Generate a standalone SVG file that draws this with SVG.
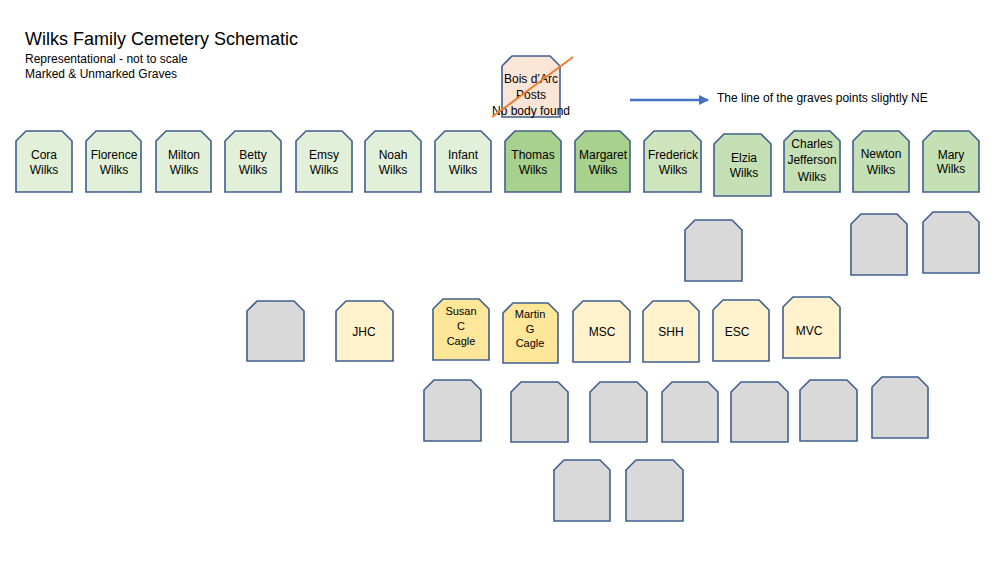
<svg xmlns="http://www.w3.org/2000/svg" width="1000" height="562" viewBox="0 0 1000 562">
<defs>
<style>
.g{stroke:#3f5f8f;stroke-width:1.6;stroke-linejoin:miter}
.lg{fill:#e2f0d9}.dg{fill:#a9d18e}.mg{fill:#c5e0b4}.fg{fill:#cde4bd}
.gr{fill:#d9d9d9}.ly{fill:#fff2cc}.dy{fill:#ffe699}.pk{fill:#fbe5d6}
text{font-family:"Liberation Sans",Arial,sans-serif;fill:#000}
.t{font-size:12px;text-anchor:middle}
.ts{font-size:11px;text-anchor:middle}
</style>
<marker id="ah" viewBox="0 0 10 10" refX="9" refY="5" markerWidth="4" markerHeight="4" orient="auto"><path d="M0,0 L10,5 L0,10 Z" fill="#4472c4"/></marker>
</defs>
<rect width="1000" height="562" fill="#fff"/>
<g id="title">
<text x="25" y="45" font-size="18">Wilks Family Cemetery Schematic</text>
<text x="25" y="63" font-size="12">Representational - not to scale</text>
<text x="25" y="78" font-size="12">Marked &amp; Unmarked Graves</text>
</g>
<g id="connectors">
<line x1="630" y1="100" x2="708" y2="100" stroke="#4472c4" stroke-width="2.5" marker-end="url(#ah)"/>
</g>
<g id="note"><text x="717" y="102" font-size="12">The line of the graves points slightly NE</text></g>
<g id="bois">
<path class="g pk" d="M502,66 L512,56 L550,56 L560,66 L560,117 L502,117 Z"/>
<text class="t" x="531" y="83">Bois d’Arc</text>
<text class="t" x="531" y="99">Posts</text>
<text class="t" x="531" y="115">No body found</text>
<line x1="492" y1="117" x2="573" y2="57" stroke="#ed7d31" stroke-width="2"/>
</g>
<g id="cora"><path class="g lg" d="M16,141 L26,131 L62,131 L72,141 L72,192 L16,192 Z"/><text class="t" x="44" y="159">Cora</text><text class="t" x="44" y="174">Wilks</text></g>
<g id="florence"><path class="g lg" d="M86,141 L96,131 L131,131 L141,141 L141,192 L86,192 Z"/><text class="t" x="114" y="159">Florence</text><text class="t" x="114" y="174">Wilks</text></g>
<g id="milton"><path class="g lg" d="M156,141 L166,131 L201,131 L211,141 L211,192 L156,192 Z"/><text class="t" x="184" y="159">Milton</text><text class="t" x="184" y="174">Wilks</text></g>
<g id="betty"><path class="g lg" d="M225,141 L235,131 L271,131 L281,141 L281,192 L225,192 Z"/><text class="t" x="253" y="159">Betty</text><text class="t" x="253" y="174">Wilks</text></g>
<g id="emsy"><path class="g lg" d="M296,141 L306,131 L342,131 L352,141 L352,192 L296,192 Z"/><text class="t" x="324" y="159">Emsy</text><text class="t" x="324" y="174">Wilks</text></g>
<g id="noah"><path class="g lg" d="M365,141 L375,131 L411,131 L421,141 L421,192 L365,192 Z"/><text class="t" x="393" y="159">Noah</text><text class="t" x="393" y="174">Wilks</text></g>
<g id="infant"><path class="g lg" d="M435,141 L445,131 L481,131 L491,141 L491,192 L435,192 Z"/><text class="t" x="463" y="159">Infant</text><text class="t" x="463" y="174">Wilks</text></g>
<g id="thomas"><path class="g dg" d="M505,141 L515,131 L551,131 L561,141 L561,192 L505,192 Z"/><text class="t" x="533" y="159">Thomas</text><text class="t" x="533" y="174">Wilks</text></g>
<g id="margaret"><path class="g dg" d="M575,141 L585,131 L620,131 L630,141 L630,192 L575,192 Z"/><text class="t" x="603" y="159">Margaret</text><text class="t" x="603" y="174">Wilks</text></g>
<g id="frederick"><path class="g fg" d="M644,141 L654,131 L691,131 L701,141 L701,192 L644,192 Z"/><text class="t" x="673" y="159">Frederick</text><text class="t" x="673" y="174">Wilks</text></g>
<g id="elzia"><path class="g mg" d="M714,144 L724,134 L761,134 L771,144 L771,196 L714,196 Z"/><text class="t" x="744" y="162">Elzia</text><text class="t" x="744" y="177">Wilks</text></g>
<g id="charles"><path class="g mg" d="M784,141 L794,131 L830,131 L840,141 L840,192 L784,192 Z"/><text class="t" x="812" y="148">Charles</text><text class="t" x="812" y="164">Jefferson</text><text class="t" x="812" y="181">Wilks</text></g>
<g id="newton"><path class="g mg" d="M853,141 L863,131 L899,131 L909,141 L909,192 L853,192 Z"/><text class="t" x="881" y="158">Newton</text><text class="t" x="881" y="174">Wilks</text></g>
<g id="mary"><path class="g mg" d="M923,141 L933,131 L969,131 L979,141 L979,192 L923,192 Z"/><text class="t" x="951" y="159">Mary</text><text class="t" x="951" y="173">Wilks</text></g>
<g id="u1"><path class="g gr" d="M685,230 L695,220 L732,220 L742,230 L742,281 L685,281 Z"/></g>
<g id="u2"><path class="g gr" d="M851,224 L861,214 L897,214 L907,224 L907,275 L851,275 Z"/></g>
<g id="u3"><path class="g gr" d="M923,222 L933,212 L969,212 L979,222 L979,273 L923,273 Z"/></g>
<g id="u4"><path class="g gr" d="M247,311 L257,301 L294,301 L304,311 L304,361 L247,361 Z"/></g>
<g id="jhc"><path class="g ly" d="M336,311 L346,301 L383,301 L393,311 L393,361 L336,361 Z"/><text class="t" x="364" y="336">JHC</text></g>
<g id="susan"><path class="g dy" d="M433,309 L443,299 L479,299 L489,309 L489,360 L433,360 Z"/><text class="ts" x="461" y="315">Susan</text><text class="ts" x="461" y="330">C</text><text class="ts" x="461" y="345">Cagle</text></g>
<g id="martin"><path class="g dy" d="M503,313 L513,303 L548,303 L558,313 L558,363 L503,363 Z"/><text class="ts" x="530" y="318">Martin</text><text class="ts" x="530" y="333">G</text><text class="ts" x="530" y="347">Cagle</text></g>
<g id="msc"><path class="g ly" d="M573,311 L583,301 L620,301 L630,311 L630,362 L573,362 Z"/><text class="t" x="602" y="336">MSC</text></g>
<g id="shh"><path class="g ly" d="M643,311 L653,301 L689,301 L699,311 L699,362 L643,362 Z"/><text class="t" x="671" y="336">SHH</text></g>
<g id="esc"><path class="g ly" d="M713,310 L723,300 L759,300 L769,310 L769,361 L713,361 Z"/><text class="t" x="737" y="336">ESC</text></g>
<g id="mvc"><path class="g ly" d="M783,307 L793,297 L830,297 L840,307 L840,358 L783,358 Z"/><text class="t" x="809" y="335">MVC</text></g>
<g id="u5"><path class="g gr" d="M424,390 L434,380 L471,380 L481,390 L481,441 L424,441 Z"/></g>
<g id="u6"><path class="g gr" d="M511,392 L521,382 L558,382 L568,392 L568,442 L511,442 Z"/></g>
<g id="u7"><path class="g gr" d="M590,392 L600,382 L637,382 L647,392 L647,442 L590,442 Z"/></g>
<g id="u8"><path class="g gr" d="M662,392 L672,382 L708,382 L718,392 L718,442 L662,442 Z"/></g>
<g id="u9"><path class="g gr" d="M731,392 L741,382 L778,382 L788,392 L788,442 L731,442 Z"/></g>
<g id="u10"><path class="g gr" d="M800,390 L810,380 L847,380 L857,390 L857,441 L800,441 Z"/></g>
<g id="u11"><path class="g gr" d="M872,387 L882,377 L918,377 L928,387 L928,438 L872,438 Z"/></g>
<g id="u12"><path class="g gr" d="M554,470 L564,460 L600,460 L610,470 L610,521 L554,521 Z"/></g>
<g id="u13"><path class="g gr" d="M626,470 L636,460 L673,460 L683,470 L683,521 L626,521 Z"/></g>
</svg>
